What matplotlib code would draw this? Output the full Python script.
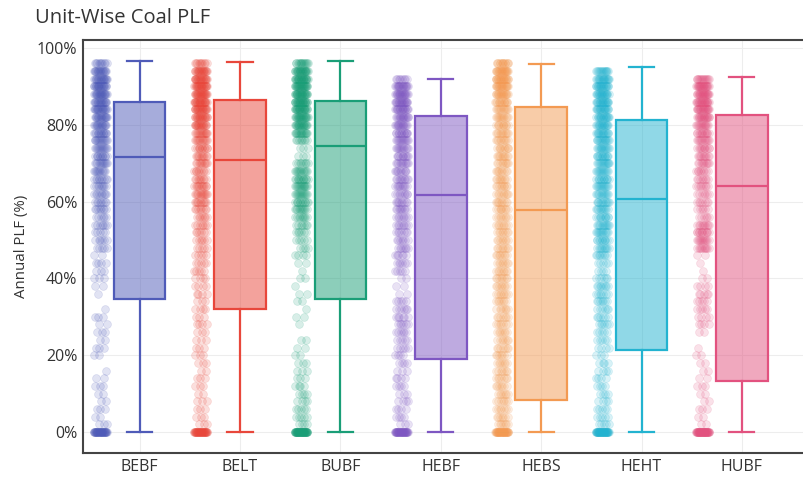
import matplotlib.pyplot as plt
import numpy as np

plt.rcParams['font.family'] = ['Open Sans', 'DejaVu Sans']

units = ["BEBF", "BELT", "BUBF", "HEBF", "HEBS", "HEHT", "HUBF"]
colors = ["#4f5bb8", "#e8473b", "#1a9e77", "#7e57c2", "#f39a52", "#23b3d0", "#e2527f"]

# box statistics (annual PLF, %)
lower = [0, 0, 0, 0, 0, 0, 0]
q1 = [34.6, 32.0, 34.6, 19.0, 8.3, 21.4, 13.3]
median = [71.6, 70.8, 74.5, 61.7, 57.8, 60.7, 64.0]
q3 = [86.0, 86.5, 86.2, 82.3, 84.6, 81.2, 82.5]
upper = [96.6, 96.4, 96.6, 92.0, 95.8, 95.0, 92.4]

# number of unit-years at each PLF level (0, 2, 4, ... 96 %)
plf_levels = list(range(0, 98, 2))
counts = {
    "BEBF": [40, 3, 2, 3, 2, 2, 3, 2, 1, 0, 2, 3, 2, 3, 2, 3, 1, 0, 1, 2, 3, 3, 4, 2, 5,
             6, 5, 7, 6, 8, 8, 9, 9, 10, 11, 12, 12, 13, 14, 15, 16, 18, 20, 20, 22, 22, 20, 18, 10],
    "BELT": [40, 3, 3, 3, 3, 2, 3, 3, 2, 3, 3, 3, 3, 3, 4, 3, 4, 3, 4, 4, 4, 5, 5, 5, 5,
             6, 6, 7, 7, 8, 10, 12, 11, 9, 9, 10, 10, 11, 12, 14, 18, 20, 22, 24, 24, 24, 22, 20, 10],
    "BUBF": [50, 4, 5, 5, 4, 4, 4, 3, 3, 3, 2, 2, 2, 0, 1, 2, 1, 2, 2, 1, 2, 1, 2, 4, 4,
             5, 6, 7, 9, 11, 12, 13, 14, 13, 12, 8, 3, 3, 8, 16, 20, 22, 24, 26, 26, 26, 26, 24, 14],
    "HEBF": [40, 3, 4, 4, 4, 3, 4, 4, 3, 4, 4, 5, 5, 6, 6, 6, 6, 5, 2, 2, 2, 5, 6, 6, 7,
             7, 7, 8, 8, 9, 9, 9, 10, 10, 10, 11, 11, 12, 13, 14, 15, 16, 18, 20, 20, 18, 8, 0, 0],
    "HEBS": [40, 7, 7, 7, 7, 7, 7, 7, 7, 7, 7, 7, 7, 7, 7, 7, 7, 7, 8, 8, 8, 8, 8, 8, 8,
             8, 8, 8, 8, 9, 9, 9, 9, 9, 9, 9, 10, 10, 10, 11, 11, 12, 12, 14, 18, 20, 22, 22, 14],
    "HEHT": [45, 5, 5, 5, 4, 4, 4, 4, 4, 4, 3, 4, 5, 5, 6, 6, 6, 7, 7, 8, 6, 4, 5, 8, 10,
             11, 12, 12, 11, 11, 12, 12, 13, 13, 13, 14, 14, 14, 15, 16, 17, 18, 18, 20, 20, 20, 18, 14, 0],
    "HUBF": [50, 2, 2, 3, 2, 2, 3, 2, 2, 2, 2, 1, 0, 2, 4, 4, 5, 5, 5, 4, 2, 1, 1, 2, 10,
             12, 12, 10, 6, 6, 7, 7, 8, 8, 9, 10, 10, 11, 12, 13, 14, 18, 20, 22, 22, 22, 14, 0, 0],
}

fig = plt.figure(figsize=(8.04, 4.78), dpi=100)
ax = fig.add_axes([0.1032, 0.0523, 0.9, 0.864])

pos = np.arange(len(units))
for i, u in enumerate(units):
    xs, ys = [], []
    for lev, n in zip(plf_levels, counts[u]):
        k = np.arange(n)
        # spread the points sideways in a fixed pattern next to the box
        off = ((k * 0.618 + lev * 0.37) % 1.0 - 0.5) * 0.13
        xs.extend(pos[i] - 0.39 + off)
        ys.extend([lev] * n)
    ax.scatter(xs, ys, s=32, color=colors[i], alpha=0.17, edgecolors=colors[i],
               linewidths=0.5, zorder=2)

stats = []
for i, u in enumerate(units):
    stats.append(dict(label=u, whislo=lower[i], q1=q1[i], med=median[i],
                      q3=q3[i], whishi=upper[i], fliers=[]))
bp = ax.bxp(stats, positions=pos, widths=0.515, capwidths=0.25, patch_artist=True,
            showfliers=False, manage_ticks=False)
for i in range(len(units)):
    c = colors[i]
    bp['boxes'][i].set_facecolor(c + "80")
    bp['boxes'][i].set_edgecolor(c)
    bp['boxes'][i].set_linewidth(1.6)
    bp['medians'][i].set_color(c)
    bp['medians'][i].set_linewidth(1.6)
    for ln in bp['whiskers'][2 * i:2 * i + 2] + bp['caps'][2 * i:2 * i + 2]:
        ln.set_color(c)
        ln.set_linewidth(1.6)

ax.set_xlim(-0.564, 6.574 + 0.07)
ax.set_ylim(-5.47, 102.1)
ax.set_xticks(pos)
ax.set_xticklabels(units, fontsize=11.5, color="#333333")
ax.set_yticks([0, 20, 40, 60, 80, 100])
ax.set_yticklabels(["0%", "20%", "40%", "60%", "80%", "100%"], fontsize=11.5, color="#333333")
ax.tick_params(axis="y", length=0, pad=4)
ax.tick_params(axis="x", length=0, pad=4)
ax.grid(True, color="#ededed", linewidth=0.8, zorder=0)
ax.set_axisbelow(True)
ax.set_ylabel("Annual PLF (%)", fontsize=10.8, color="#333333", labelpad=6)
for s in ["left", "top", "bottom"]:
    ax.spines[s].set_color("#444444")
    ax.spines[s].set_linewidth(1.5)
ax.spines["right"].set_visible(False)

fig.text(0.044, 0.962, "Unit-Wise Coal PLF", fontsize=14.5, color="#333333", va="center")

fig.savefig("out.png", dpi=100)
